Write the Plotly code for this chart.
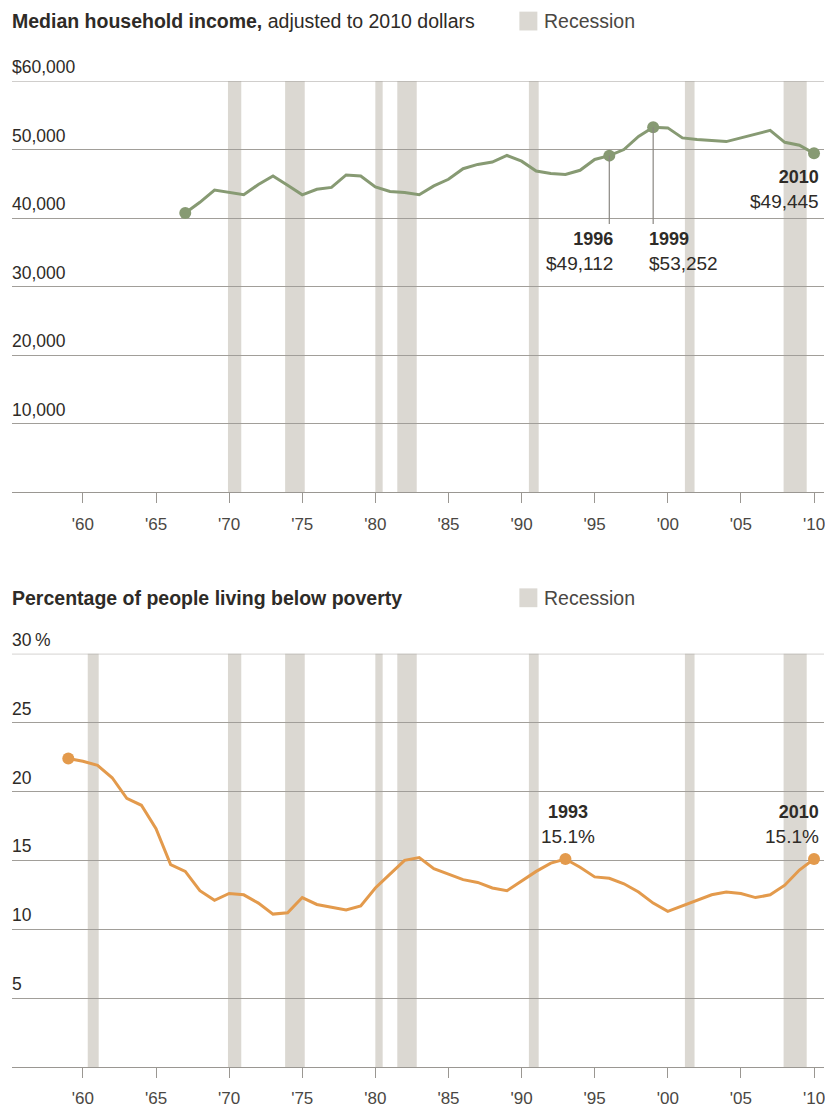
import plotly.graph_objects as go

# ---------------- data ----------------
income_years = list(range(1967, 2011))
income_values = [40750, 42300, 44100, 43700, 43400, 44900, 46150, 44800, 43400, 44200,
                 44470, 46290, 46150, 44550, 43890, 43740, 43400, 44700, 45660, 47200,
                 47830, 48170, 49130, 48300, 46860, 46500, 46350, 46970, 48550, 49112,
                 50000, 51920, 53252, 53160, 51700, 51450, 51300, 51160, 51700, 52260,
                 52800, 51050, 50620, 49445]

poverty_years = list(range(1959, 2011))
poverty_values = [22.4, 22.2, 21.9, 21.0, 19.5, 19.0, 17.3, 14.7, 14.2, 12.8,
                  12.1, 12.6, 12.5, 11.9, 11.1, 11.2, 12.3, 11.8, 11.6, 11.4,
                  11.7, 13.0, 14.0, 15.0, 15.2, 14.4, 14.0, 13.6, 13.4, 13.0,
                  12.8, 13.5, 14.2, 14.8, 15.1, 14.5, 13.8, 13.7, 13.3, 12.7,
                  11.9, 11.3, 11.7, 12.1, 12.5, 12.7, 12.6, 12.3, 12.5, 13.2,
                  14.3, 15.1]

recession_starts = [1960.33, 1969.92, 1973.83, 1980.0, 1981.5, 1990.5, 2001.17, 2007.92]
recession_ends = [1961.08, 1970.83, 1975.17, 1980.5, 1982.83, 1991.17, 2001.83, 2009.5]

x_tick_values = [1960, 1965, 1970, 1975, 1980, 1985, 1990, 1995, 2000, 2005, 2010]
x_tick_labels = ["'60", "'65", "'70", "'75", "'80", "'85", "'90", "'95", "'00", "'05", "'10"]

income_tick_values = [10000, 20000, 30000, 40000, 50000, 60000]
income_tick_labels = ["10,000", "20,000", "30,000", "40,000", "50,000", "$60,000"]
poverty_tick_values = [5, 10, 15, 20, 25, 30]
poverty_tick_labels = ["5", "10", "15", "20", "25", "30\u2009%"]

income_callouts = [1996, 1999, 2010]
poverty_callouts = [1993, 2010]

income_title = "<b>Median household income,</b> adjusted to 2010 dollars"
poverty_title = "<b>Percentage of people living below poverty</b>"
legend_label = "Recession"

# ---------------- styling / geometry ----------------
W, H = 825, 1108
PLOT_LEFT, PLOT_RIGHT, PLOT_TOP, PLOT_BOTTOM = 12, 825, 81, 1076
ML, MR, MT, MB = PLOT_LEFT, W - PLOT_RIGHT, PLOT_TOP, H - PLOT_BOTTOM
PW, PH = W - ML - MR, H - MT - MB
FONT = "Liberation Sans, Arial, Helvetica, sans-serif"
GREEN = "#879a73"
ORANGE = "#e39a4c"
BAND = "#dbd8d2"
GRID = "#a19e99"
TXT = "#2e2b27"
TICKTXT = "#4a4743"


def px_x(px):
    return (px - ML) / PW


def px_y(py):
    return (H - MB - py) / PH


# x range from pixel calibration ('60 at 83px, '10 at 815px)
ppy = (815 - 83) / 50.0
x_range = [1960 - (83 - PLOT_LEFT) / ppy, 1960 + (PLOT_RIGHT - 83) / ppy]

fig = go.Figure()

fig.add_trace(go.Scatter(x=income_years, y=income_values, mode="lines",
                         line=dict(color=GREEN, width=3), xaxis="x", yaxis="y",
                         hoverinfo="skip", showlegend=False, cliponaxis=False))
inc_mark_x = [income_years[0]] + income_callouts
inc_mark_y = [income_values[income_years.index(yr)] for yr in inc_mark_x]
fig.add_trace(go.Scatter(x=inc_mark_x, y=inc_mark_y, mode="markers",
                         marker=dict(color=GREEN, size=12), xaxis="x", yaxis="y",
                         hoverinfo="skip", showlegend=False, cliponaxis=False))

fig.add_trace(go.Scatter(x=poverty_years, y=poverty_values, mode="lines",
                         line=dict(color=ORANGE, width=3), xaxis="x2", yaxis="y2",
                         hoverinfo="skip", showlegend=False, cliponaxis=False))
pov_mark_x = [poverty_years[0]] + poverty_callouts
pov_mark_y = [poverty_values[poverty_years.index(yr)] for yr in pov_mark_x]
fig.add_trace(go.Scatter(x=pov_mark_x, y=pov_mark_y, mode="markers",
                         marker=dict(color=ORANGE, size=12), xaxis="x2", yaxis="y2",
                         hoverinfo="skip", showlegend=False, cliponaxis=False))

shapes = []
for s, e in zip(recession_starts, recession_ends):
    if e > income_years[0]:
        shapes.append(dict(type="rect", xref="x", yref="y domain", x0=s, x1=e, y0=0, y1=1,
                           fillcolor=BAND, line=dict(width=0), layer="below"))
    shapes.append(dict(type="rect", xref="x2", yref="y2 domain", x0=s, x1=e, y0=0, y1=1,
                       fillcolor=BAND, line=dict(width=0), layer="below"))

# top grid lines (at the upper edge of each panel)
shapes.append(dict(type="line", xref="paper", yref="y", x0=0, x1=1,
                   y0=max(income_tick_values), y1=max(income_tick_values),
                   line=dict(color=GRID, width=1), layer="above"))
shapes.append(dict(type="line", xref="paper", yref="y2", x0=0, x1=1,
                   y0=max(poverty_tick_values), y1=max(poverty_tick_values),
                   line=dict(color=GRID, width=1), layer="above"))

# legend squares
for top in (11, 593):
    shapes.append(dict(type="rect", xref="paper", yref="paper",
                       x0=px_x(520), x1=px_x(538), y0=px_y(top + 19), y1=px_y(top),
                       fillcolor=BAND, line=dict(width=0), layer="above"))

annotations = []
# titles + legend labels
for title, cy in ((income_title, 20), (poverty_title, 603)):
    annotations.append(dict(text=title, xref="paper", yref="paper", x=px_x(12), y=px_y(cy),
                            xanchor="left", yanchor="middle", xshift=-2, showarrow=False,
                            font=dict(family=FONT, size=19.5, color=TXT)))
    annotations.append(dict(text=legend_label, xref="paper", yref="paper", x=px_x(545),
                            y=px_y(cy), xanchor="left", yanchor="middle", xshift=-2,
                            showarrow=False,
                            font=dict(family=FONT, size=19.5, color=TICKTXT)))

# y tick labels above the grid lines
for vals, labs, yref in ((income_tick_values, income_tick_labels, "y"),
                         (poverty_tick_values, poverty_tick_labels, "y2")):
    for v, t in zip(vals, labs):
        annotations.append(dict(text=t, xref="paper", yref=yref, x=px_x(12), y=v,
                                xanchor="left", yanchor="bottom", xshift=-2, yshift=2,
                                showarrow=False,
                                font=dict(family=FONT, size=17.5, color=TXT)))


def callout_text(yr, value_text):
    return "<span style='font-size:18px'><b>%d</b></span><br>%s" % (yr, value_text)


CALLOUT_FONT = dict(family=FONT, size=19, color=TXT)

# income callouts
leader_bottom = 39150
for yr in income_callouts:
    v = income_values[income_years.index(yr)]
    txt = callout_text(yr, "$" + format(v, ","))
    if yr == income_callouts[-1]:
        annotations.append(dict(text=txt, xref="x", yref="y", x=yr, y=v, xanchor="right",
                                yanchor="top", xshift=7, yshift=-12, align="right",
                                showarrow=False, font=CALLOUT_FONT))
    else:
        shapes.append(dict(type="line", xref="x", yref="y", x0=yr, x1=yr, y0=v,
                           y1=leader_bottom, line=dict(color="#8a8782", width=1.2),
                           layer="above"))
        left = yr == income_callouts[1]
        annotations.append(dict(text=txt, xref="x", yref="y", x=yr, y=leader_bottom,
                                xanchor="left" if left else "right", yanchor="top",
                                xshift=-6 if left else 6, yshift=-3,
                                align="left" if left else "right", showarrow=False,
                                font=CALLOUT_FONT))

# poverty callouts
for yr in poverty_callouts:
    v = poverty_values[poverty_years.index(yr)]
    txt = callout_text(yr, "%.1f%%" % v)
    last = yr == poverty_callouts[-1]
    annotations.append(dict(text=txt, xref="x2", yref="y2", x=yr, y=v,
                            xanchor="right" if last else "center", yanchor="bottom",
                            xshift=7 if last else 3, yshift=10,
                            align="right" if last else "center", showarrow=False,
                            font=CALLOUT_FONT))

xaxis_common = dict(range=x_range, tickvals=x_tick_values, ticktext=x_tick_labels,
                    showgrid=False, zeroline=False, showline=True, linecolor="#9a9792",
                    linewidth=1, ticks="outside", ticklen=10, tickcolor="#9a9792",
                    tickfont=dict(family=FONT, size=17, color=TICKTXT),
                    ticklabelstandoff=6, ticklabeloverflow="allow", fixedrange=True)
yaxis_common = dict(showticklabels=False, ticks="", showgrid=True, gridcolor=GRID,
                    gridwidth=1, zeroline=False, showline=False, fixedrange=True)

fig.update_layout(
    width=W, height=H, autosize=False,
    margin=dict(l=ML, r=MR, t=MT, b=MB, pad=0),
    paper_bgcolor="white", plot_bgcolor="white",
    showlegend=False, hovermode=False,
    font=dict(family=FONT, color=TXT),
    xaxis=dict(anchor="y", **xaxis_common),
    xaxis2=dict(anchor="y2", **xaxis_common),
    yaxis=dict(domain=[px_y(496), 1.0], range=[0, 60000], tickvals=income_tick_values,
               anchor="x", **yaxis_common),
    yaxis2=dict(domain=[0, px_y(659)], range=[0, 30], tickvals=poverty_tick_values,
                anchor="x2", **yaxis_common),
    shapes=shapes,
    annotations=annotations,
)

page_fix = ("document.documentElement.style.margin='0';"
            "document.documentElement.style.overflow='hidden';"
            "document.body.style.margin='0';"
            "document.body.style.overflow='hidden';"
            "var gd=document.getElementById('{plot_id}');"
            "gd.style.position='fixed';gd.style.left='0px';gd.style.top='0px';")

fig.write_html("out.html", config={"displayModeBar": False, "staticPlot": True},
               post_script=page_fix)
